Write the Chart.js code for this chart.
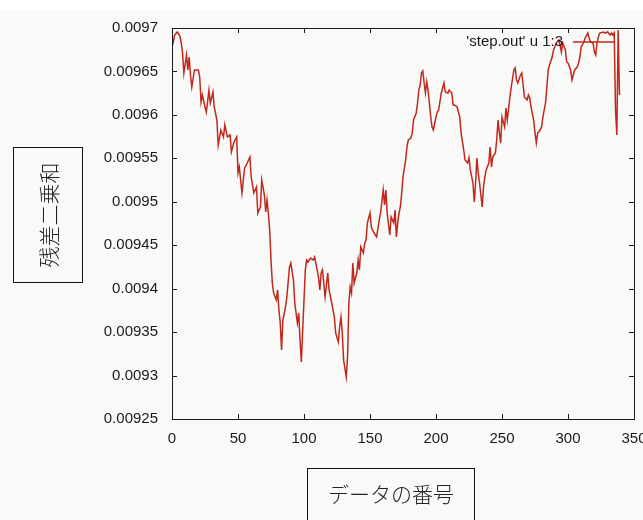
<!DOCTYPE html>
<html>
<head>
<meta charset="utf-8">
<script src="https://cdn.jsdelivr.net/npm/chart.js@4"></script>
<style>
  html, body { margin: 0; padding: 0; }
  body { width: 643px; height: 520px; background: #f9f9f7; position: relative; overflow: hidden; }
  #topstrip { position: absolute; left: 0; top: 0; width: 643px; height: 10px; background: #ffffff; }
  #chart { position: absolute; left: 0; top: 0; }
  .titlebox { position: absolute; border: 1.5px solid #111; box-sizing: border-box; color: #222;
    font-family: "Noto Sans CJK JP", sans-serif; font-size: 21px; font-weight: 300; }
  #ybox { left: 13px; top: 147px; width: 70px; height: 136px; }
  #ybox span { position: absolute; left: 50%; top: 50%; transform: translate(-50%, -50%) rotate(-90deg); white-space: nowrap; }
  #xbox { left: 307px; top: 468px; width: 168px; height: 60px; }
  #xbox span { position: absolute; left: 50%; top: 24px; transform: translate(-50%, -50%); white-space: nowrap; }
</style>
</head>
<body>
<div id="topstrip"></div>
<canvas id="chart" width="643" height="520"></canvas>
<div class="titlebox" id="ybox"><span>残差二乗和</span></div>
<div class="titlebox" id="xbox"><span>データの番号</span></div>
<script>
const seriesLabel = "'step.out' u 1:3";
const dataIndex = [
  0,1,2,4,6,7,8,9,11,12,13,14,15,17,20,21,22,23,25,26,28,29,31,32,34,35,37,39,40,42,
  44,45,47,49,50,51,53,55,57,59,60,62,64,65,67,68,70,71,72,73,74,75,76,77,79,80,81,82,83,84,
  86,87,89,90,92,93,95,96,97,98,99,100,101,102,103,105,107,108,109,111,112,113,114,116,118,119,121,123,124,126,
  127,128,129,130,132,133,134,135,136,137,138,140,141,142,143,145,146,147,148,150,151,153,155,157,158,160,161,162,163,165,
  166,168,169,170,171,172,173,174,175,177,178,179,181,182,183,185,186,187,188,189,190,191,192,193,194,196,197,198,200,201,
  202,204,206,207,209,210,212,213,214,216,218,219,221,222,224,225,226,228,229,230,231,232,233,235,236,237,238,240,241,242,
  243,245,246,247,248,249,250,252,253,254,256,257,259,260,261,262,264,265,266,267,269,270,271,272,274,275,276,277,278,280,
  281,283,284,285,286,288,289,290,291,293,294,295,296,298,299,300,302,303,304,305,307,308,309,310,312,313,315,316,317,319,
  320,321,322,323,324,327,328,330,332,333,334,335,336,337,338,339
];
const residualSum = [
  0.0096781,0.0096839,0.0096919,0.0096954,0.0096908,0.0096827,0.0096712,0.0096482,0.0096689,0.0096517,0.0096666,0.0096459,0.0096321,0.0096517,0.0096517,0.0096436,0.0096148,0.0096229,0.0096091,0.0096033,0.0096286,0.0096137,0.0096263,0.0096091,0.0095941,0.0095653,0.0095826,0.0095746,0.0095884,0.0095746,
  0.0095769,0.0095573,0.0095688,0.0095746,0.0095331,0.0095400,0.0095101,0.0095389,0.0095446,0.0095515,0.0095285,0.0095101,0.0095170,0.0094871,0.0094940,0.0095251,0.0095078,0.0094882,0.0095020,0.0094871,0.0094675,0.0094330,0.0094065,0.0093950,0.0093870,0.0093985,0.0093754,0.0093605,0.0093294,0.0093639,
  0.0093789,0.0093904,0.0094249,0.0094295,0.0094100,0.0093835,0.0093605,0.0093720,0.0093409,0.0093156,0.0093524,0.0093870,0.0094215,0.0094330,0.0094307,0.0094353,0.0094330,0.0094364,0.0094295,0.0094134,0.0093985,0.0094180,0.0094215,0.0093904,0.0094180,0.0093985,0.0093835,0.0093674,0.0093490,0.0093386,
  0.0093559,0.0093674,0.0093490,0.0093179,0.0092983,0.0093214,0.0093835,0.0094019,0.0093950,0.0094295,0.0094065,0.0094180,0.0094330,0.0094215,0.0094480,0.0094410,0.0094526,0.0094560,0.0094756,0.0094871,0.0094710,0.0094641,0.0094595,0.0094790,0.0094871,0.0095136,0.0094963,0.0095136,0.0094871,0.0094618,
  0.0094825,0.0094756,0.0094905,0.0094595,0.0094756,0.0094871,0.0094940,0.0095101,0.0095285,0.0095481,0.0095630,0.0095711,0.0095734,0.0095792,0.0095941,0.0096022,0.0096137,0.0096286,0.0096344,0.0096482,0.0096505,0.0096367,0.0096252,0.0096379,0.0096286,0.0095976,0.0095861,0.0095826,0.0095976,0.0096033,
  0.0096056,0.0096252,0.0096367,0.0096263,0.0096252,0.0096286,0.0096252,0.0096114,0.0096114,0.0096091,0.0095976,0.0095792,0.0095596,0.0095481,0.0095446,0.0095504,0.0095366,0.0095216,0.0094997,0.0095216,0.0095504,0.0095331,0.0095216,0.0094940,0.0095170,0.0095285,0.0095366,0.0095446,0.0095630,0.0095400,
  0.0095515,0.0095561,0.0095711,0.0095941,0.0095792,0.0095676,0.0095976,0.0095861,0.0096079,0.0095941,0.0096206,0.0096321,0.0096517,0.0096540,0.0096402,0.0096367,0.0096459,0.0096482,0.0096344,0.0096206,0.0096171,0.0096229,0.0096194,0.0096091,0.0095941,0.0095792,0.0095676,0.0095792,0.0095803,0.0095861,
  0.0095976,0.0096137,0.0096321,0.0096517,0.0096574,0.0096666,0.0096747,0.0096781,0.0096827,0.0096862,0.0096804,0.0096724,0.0096827,0.0096747,0.0096609,0.0096597,0.0096517,0.0096402,0.0096459,0.0096517,0.0096551,0.0096597,0.0096666,0.0096781,0.0096839,0.0096885,0.0096942,0.0096885,0.0096839,0.0096827,
  0.0096724,0.0096689,0.0096827,0.0096896,0.0096942,0.0096954,0.0096942,0.0096954,0.0096919,0.0096942,0.0096919,0.0096942,0.0096056,0.0095769,0.0096977,0.0096229
];
const xTicks = [0, 50, 100, 150, 200, 250, 300, 350];
const yTicks = [0.00925, 0.0093, 0.00935, 0.0094, 0.00945, 0.0095, 0.00955, 0.0096, 0.00965, 0.0097];

const LINE_COLOR = '#c0281e';
const AXIS_COLOR = '#1a1a1a';
const TICK_FONT = { family: '"Liberation Sans", Arial, sans-serif', size: 15 };

const points = dataIndex.map((x, k) => ({ x: x, y: residualSum[k] }));

const framePlugin = {
  id: 'gnuplotFrame',
  afterDraw(chart) {
    const ctx = chart.ctx;
    const a = chart.chartArea;
    const xs = chart.scales.x, ys = chart.scales.y;
    const tl = 5;
    ctx.save();
    ctx.strokeStyle = AXIS_COLOR;
    ctx.lineWidth = 1;
    ctx.beginPath();
    xTicks.forEach(v => {
      const px = Math.round(xs.getPixelForValue(v)) + 0.5;
      ctx.moveTo(px, a.bottom); ctx.lineTo(px, a.bottom - tl);
      ctx.moveTo(px, a.top); ctx.lineTo(px, a.top + tl);
    });
    yTicks.forEach(v => {
      const py = Math.round(ys.getPixelForValue(v)) + 0.5;
      ctx.moveTo(a.left, py); ctx.lineTo(a.left + tl, py);
      ctx.moveTo(a.right, py); ctx.lineTo(a.right - tl, py);
    });
    ctx.stroke();
    ctx.strokeRect(Math.round(a.left) + 0.5, Math.round(a.top) + 0.5, Math.round(a.right - a.left), Math.round(a.bottom - a.top));
    // key (gnuplot style: text then sample line)
    const ds = chart.data.datasets[0];
    const ky = a.top + 14;
    const lineEnd = a.right - 19;
    const lineStart = lineEnd - 42;
    ctx.font = '15px "Liberation Sans", Arial, sans-serif';
    ctx.fillStyle = AXIS_COLOR;
    ctx.textAlign = 'right';
    ctx.textBaseline = 'middle';
    ctx.fillText(ds.label, lineStart - 10, ky);
    ctx.strokeStyle = ds.borderColor;
    ctx.lineWidth = 1.5;
    ctx.beginPath();
    ctx.moveTo(lineStart, ky); ctx.lineTo(lineEnd, ky);
    ctx.stroke();
    ctx.restore();
  }
};

new Chart(document.getElementById('chart'), {
  type: 'line',
  data: {
    datasets: [{
      label: seriesLabel,
      data: points,
      borderColor: LINE_COLOR,
      borderWidth: 1.5,
      pointRadius: 0,
      tension: 0,
      fill: false
    }]
  },
  options: {
    responsive: false,
    devicePixelRatio: 1,
    animation: false,
    layout: { padding: { top: 28, right: 9, left: 0, bottom: 0 } },
    plugins: { legend: { display: false }, tooltip: { enabled: false } },
    scales: {
      x: {
        type: 'linear',
        min: 0, max: 350,
        grid: { display: false },
        border: { display: false },
        afterBuildTicks: s => { s.ticks = xTicks.map(v => ({ value: v })); },
        ticks: { color: AXIS_COLOR, font: TICK_FONT, padding: 3, maxRotation: 0, autoSkip: false,
                 callback: v => String(v) },
        afterFit: s => { s.height = 101; s.paddingLeft = 0; s.paddingRight = 0; }
      },
      y: {
        type: 'linear',
        min: 0.00925, max: 0.0097,
        grid: { display: false },
        border: { display: false },
        afterBuildTicks: s => { s.ticks = yTicks.map(v => ({ value: v })); },
        ticks: { color: AXIS_COLOR, font: TICK_FONT, padding: 6, autoSkip: false,
                 callback: v => String(Number(Number(v).toFixed(5))) },
        afterFit: s => { s.width = 172; }
      }
    }
  },
  plugins: [framePlugin]
});
</script>
</body>
</html>
